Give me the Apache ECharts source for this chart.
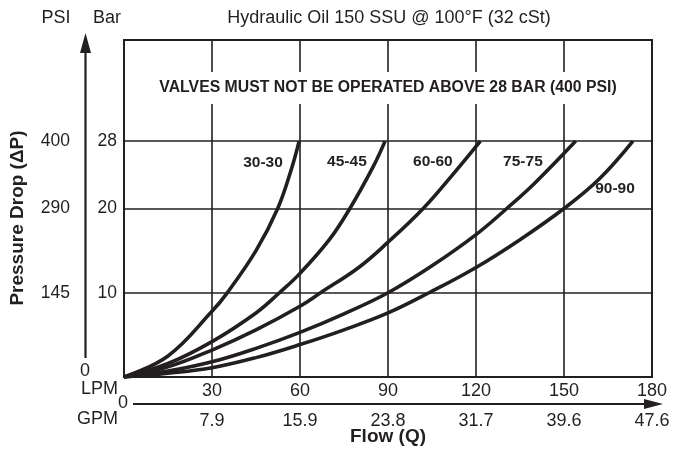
<!DOCTYPE html>
<html>
<head>
<meta charset="utf-8">
<script src="https://cdn.jsdelivr.net/npm/echarts@6/dist/echarts.min.js"></script>
<style>
  html, body { margin: 0; padding: 0; background: #fff; }
  #main { width: 685px; height: 450px; }
</style>
</head>
<body>
<div id="main"></div>
<script>
// 曲线数据 (LPM -> Bar)
var flow3030 = [0, 15, 30, 35, 45, 52.4, 57, 59.7];
var drop3030 = [0, 2.5, 7.8, 9.9, 15, 20, 24.6, 28];
var flow4545 = [0, 15, 30, 45, 53, 60, 70, 77, 85, 89];
var drop4545 = [0, 1.6, 4.2, 7.6, 10, 12.3, 16.3, 20, 25, 28];
var flow6060 = [0, 15, 30, 45, 60, 67, 80, 90, 102, 112, 121.5];
var drop6060 = [0, 1.2, 3.2, 5.6, 8.4, 10, 13, 16, 20, 24, 28];
var flow7575 = [0, 15, 30, 45, 60, 75, 90, 105, 120, 130.5, 140, 154];
var drop7575 = [0, 0.7, 1.8, 3.4, 5.3, 7.5, 10, 13.2, 16.9, 20, 23, 28];
var flow9090 = [0, 15, 30, 45, 60, 75, 90, 104, 120, 135, 150, 162, 173.5];
var drop9090 = [0, 0.45, 1.1, 2.3, 3.85, 5.6, 7.6, 10, 13, 16.3, 20, 23.5, 28];

var curveNames = ['30-30', '45-45', '60-60', '75-75', '90-90'];
var curveFlows = [flow3030, flow4545, flow6060, flow7575, flow9090];
var curveDrops = [drop3030, drop4545, drop6060, drop7575, drop9090];
// 标签位置 (LPM, Bar)
var labelAt = [[47.4, 25.4], [76, 25.5], [105.3, 25.5], [136, 25.5], [167.4, 22.3]];

// 刻度
var barTicks = [10, 20, 28];
var psiTicks = ['145', '290', '400'];
var lpmTicks = [30, 60, 90, 120, 150, 180];
var gpmTicks = ['7.9', '15.9', '23.8', '31.7', '39.6', '47.6'];

var ink = '#231f20';
var ff = '"Liberation Sans", Arial, Helvetica, sans-serif';

function pairs(xs, ys) {
  var out = [];
  for (var i = 0; i < xs.length; i++) out.push([xs[i], ys[i]]);
  return out;
}

var series = curveNames.map(function(name, i) {
  var s = {
    name: name,
    type: 'line',
    data: pairs(curveFlows[i], curveDrops[i]),
    smooth: 0.4,
    showSymbol: false,
    silent: true,
    lineStyle: { color: ink, width: 3.6 },
    z: 5,
    markPoint: {
      symbol: 'circle',
      symbolSize: 1,
      itemStyle: { color: 'rgba(0,0,0,0)' },
      label: {
        show: true, position: 'inside', formatter: name,
        fontFamily: ff, fontWeight: 'bold', fontSize: 15.5, color: ink
      },
      data: [{ coord: labelAt[i] }]
    }
  };
  if (i === 0) {
    s.markLine = {
      silent: true,
      symbol: ['none', 'none'],
      label: { show: false },
      lineStyle: { color: ink, width: 1.6, type: 'solid' },
      data: barTicks.map(function(v) { return { yAxis: v }; })
    };
  }
  return s;
});

var myChart = echarts.init(document.getElementById('main'));

option = {
  animation: false,
  backgroundColor: '#fff',
  grid: {
    left: 124, right: 33, top: 40, bottom: 73,
    show: true, borderColor: ink, borderWidth: 2, backgroundColor: 'transparent'
  },
  xAxis: [{
    type: 'value', min: 0, max: 180, interval: 30,
    axisLine: { show: false }, axisTick: { show: false },
    splitLine: { show: true, lineStyle: { color: ink, width: 1.6 } },
    axisLabel: {
      showMinLabel: false, margin: 5, fontSize: 18, color: ink, fontFamily: ff,
      formatter: function(v) { return lpmTicks.indexOf(v) >= 0 ? String(v) : ''; }
    }
  }, {
    type: 'value', min: 0, max: 180, interval: 30, position: 'bottom', offset: 30,
    axisLine: { show: false }, axisTick: { show: false }, splitLine: { show: false },
    axisLabel: {
      showMinLabel: false, margin: 5, fontSize: 18, color: ink, fontFamily: ff,
      formatter: function(v) { var k = lpmTicks.indexOf(v); return k >= 0 ? gpmTicks[k] : ''; }
    }
  }],
  yAxis: [{
    type: 'value', min: 0, max: 40, position: 'left',
    axisLine: { show: false }, axisTick: { show: false }, splitLine: { show: false },
    axisLabel: {
      customValues: barTicks, margin: 7, fontSize: 17.5, color: ink, fontFamily: ff
    }
  }, {
    type: 'value', min: 0, max: 40, position: 'left', offset: 47,
    axisLine: { show: false }, axisTick: { show: false }, splitLine: { show: false },
    axisLabel: {
      customValues: barTicks, margin: 7, fontSize: 17.5, color: ink, fontFamily: ff,
      formatter: function(v) { var k = barTicks.indexOf(v); return k >= 0 ? psiTicks[k] : ''; }
    }
  }],
  graphic: [
    { type: 'text', x: 389, y: 18, z: 100, style: { text: 'Hydraulic Oil 150 SSU @ 100°F (32 cSt)', font: '18px ' + ff, fill: ink, textAlign: 'center', textVerticalAlign: 'middle' } },
    { type: 'text', x: 56, y: 18, z: 100, style: { text: 'PSI', font: '18px ' + ff, fill: ink, textAlign: 'center', textVerticalAlign: 'middle' } },
    { type: 'text', x: 107, y: 18, z: 100, style: { text: 'Bar', font: '18px ' + ff, fill: ink, textAlign: 'center', textVerticalAlign: 'middle' } },
    { type: 'text', x: 388, y: 88, z: 100, style: { text: 'VALVES MUST NOT BE OPERATED ABOVE 28 BAR (400 PSI)', font: 'bold 15.8px ' + ff, fill: ink, textAlign: 'center', textVerticalAlign: 'middle', backgroundColor: '#fff', padding: [8, 3] } },
    { type: 'text', x: 18, y: 218, rotation: Math.PI / 2, z: 100, style: { text: 'Pressure Drop (ΔP)', font: 'bold 19px ' + ff, fill: ink, textAlign: 'center', textVerticalAlign: 'middle' } },
    { type: 'text', x: 85, y: 371, z: 100, style: { text: '0', font: '18px ' + ff, fill: ink, textAlign: 'center', textVerticalAlign: 'middle' } },
    { type: 'line', z: 100, shape: { x1: 85.5, y1: 358, x2: 85.5, y2: 48 }, style: { stroke: ink, lineWidth: 2.2 } },
    { type: 'polygon', z: 100, shape: { points: [[85.5, 33], [80, 53], [91, 53]] }, style: { fill: ink } },
    { type: 'text', x: 118, y: 389, z: 100, style: { text: 'LPM', font: '18px ' + ff, fill: ink, textAlign: 'right', textVerticalAlign: 'middle' } },
    { type: 'text', x: 118, y: 419, z: 100, style: { text: 'GPM', font: '18px ' + ff, fill: ink, textAlign: 'right', textVerticalAlign: 'middle' } },
    { type: 'text', x: 123, y: 403, z: 100, style: { text: '0', font: '18px ' + ff, fill: ink, textAlign: 'center', textVerticalAlign: 'middle' } },
    { type: 'line', z: 100, shape: { x1: 133, y1: 404, x2: 650, y2: 404 }, style: { stroke: ink, lineWidth: 2.2 } },
    { type: 'polygon', z: 100, shape: { points: [[663, 404], [644, 399], [644, 409]] }, style: { fill: ink } },
    { type: 'text', x: 388, y: 437, z: 100, style: { text: 'Flow (Q)', font: 'bold 19px ' + ff, fill: ink, textAlign: 'center', textVerticalAlign: 'middle' } }
  ],
  series: series
};

myChart.setOption(option);
</script>
</body>
</html>
